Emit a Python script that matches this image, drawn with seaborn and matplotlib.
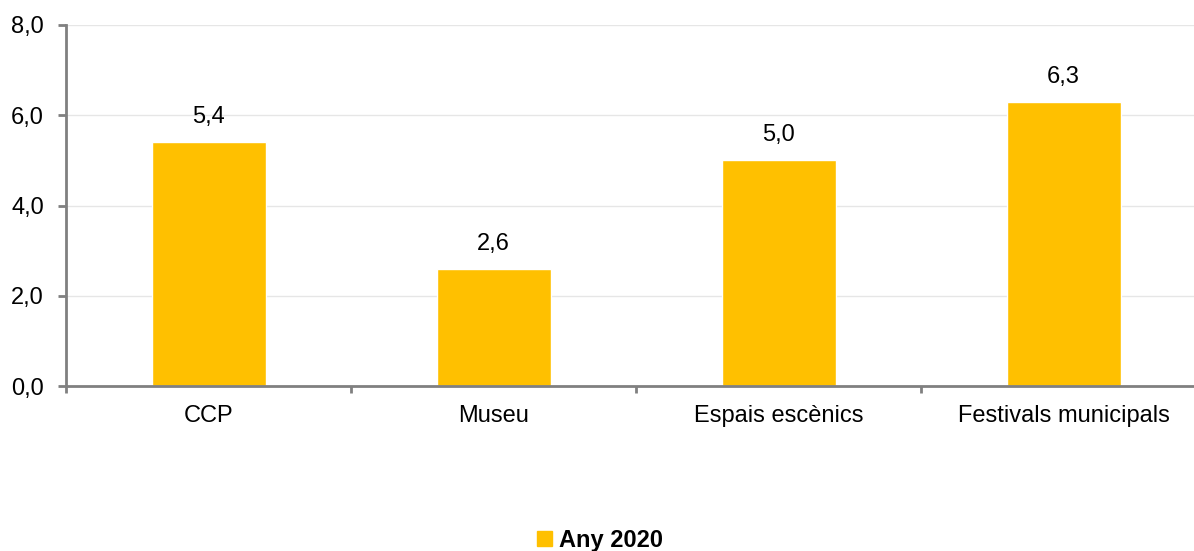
import matplotlib
matplotlib.use("Agg")
import matplotlib.pyplot as plt
import seaborn as sns
import pandas as pd
from matplotlib.patches import Patch
from matplotlib.ticker import FixedLocator

# Dades del gràfic
categories = ["CCP", "Museu", "Espais escènics", "Festivals municipals"]
valors = [5.4, 2.6, 5.0, 6.3]
serie = "Any 2020"
color_barra = "#FFC000"

df = pd.DataFrame({"Categoria": categories, "Valor": valors})

sns.set_style("white")
plt.rcParams["font.family"] = ["Liberation Sans", "DejaVu Sans"]
plt.rcParams["text.color"] = "black"
plt.rcParams["xtick.color"] = "black"
plt.rcParams["ytick.color"] = "black"

fig = plt.figure(figsize=(11.94, 5.51), dpi=100)
ax = fig.add_axes([66 / 1194, 165 / 551, 1140 / 1194, 361 / 551])

sns.barplot(x="Categoria", y="Valor", data=df, color=color_barra, width=0.4,
            saturation=1, ax=ax)

ax.set_xlim(-0.5, len(categories) - 0.5)
ax.set_ylim(0, 8)
ax.set_yticks([0, 2, 4, 6, 8])
ax.set_yticklabels([f"{v:.1f}".replace(".", ",") for v in [0, 2, 4, 6, 8]], fontsize=17)
ax.yaxis.grid(True, color="#e6e6e6", linewidth=1)
ax.set_axisbelow(True)

# etiquetes de valor
for i, v in enumerate(valors):
    ax.annotate(f"{v:.1f}".replace(".", ","), (i, v), xytext=(0, 18),
                textcoords="offset points", ha="center", va="center", fontsize=17)

# eix x: etiquetes sense marca, marques entre categories
ax.set_xticks(range(len(categories)))
ax.set_xticklabels(categories, fontsize=17)
ax.tick_params(axis="x", which="major", bottom=False, length=0, pad=14)
ax.xaxis.set_minor_locator(FixedLocator([i - 0.5 for i in range(len(categories) + 1)]))
ax.tick_params(axis="x", which="minor", bottom=True, length=5, width=2,
               color="#808080", direction="out")
ax.tick_params(axis="y", left=True, length=6, width=2, color="#808080",
               labelcolor="black", direction="out", pad=10)
ax.set_xlabel("")
ax.set_ylabel("")

for s in ["top", "right"]:
    ax.spines[s].set_visible(False)
for s in ["left", "bottom"]:
    ax.spines[s].set_color("#808080")
    ax.spines[s].set_linewidth(2)

fig.legend(handles=[Patch(color=color_barra, label=serie)], loc="center",
           bbox_to_anchor=(600 / 1194, 1 - 540 / 551), frameon=False,
           prop={"weight": "bold", "size": 17}, handlelength=0.6, handleheight=0.6,
           handletextpad=0.3)

fig.savefig("out.png", dpi=100)
